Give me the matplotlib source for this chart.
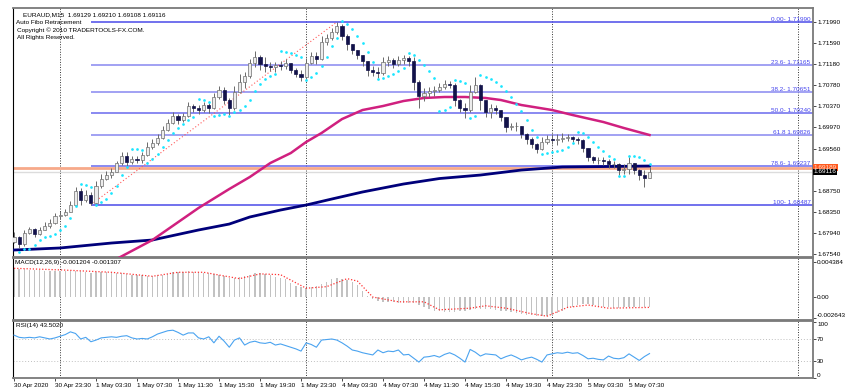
import matplotlib
matplotlib.use("Agg")
import matplotlib.pyplot as plt
import numpy as np

plt.rcParams['font.family'] = ['Liberation Sans', 'DejaVu Sans']

# ---- data (30-minute sampling of the EURAUD M15 chart) ----
open0 = 1.67770
close = [1.67867, 1.67732, 1.67943, 1.68019, 1.67924, 1.68001, 1.68077, 1.68134, 1.68269, 1.68288,
         1.68346, 1.68480, 1.68749, 1.68576, 1.68672, 1.68518, 1.68845, 1.68978, 1.69055, 1.69113,
         1.69285, 1.69420, 1.69305, 1.69362, 1.69343, 1.69439, 1.69593, 1.69669, 1.69766, 1.69919,
         1.70052, 1.70187, 1.70110, 1.70187, 1.70379, 1.70341, 1.70302, 1.70398, 1.70341, 1.70552,
         1.70686, 1.70494, 1.70341, 1.70648, 1.70840, 1.70954, 1.71203, 1.71319, 1.71184, 1.71146,
         1.71127, 1.71165, 1.71146, 1.71203, 1.71069, 1.70992, 1.70935, 1.71203, 1.71338, 1.71280,
         1.71607, 1.71684, 1.71799, 1.71913, 1.71722, 1.71568, 1.71453, 1.71357, 1.71242, 1.71069,
         1.71031, 1.71011, 1.71223, 1.71261, 1.71184, 1.71261, 1.71300, 1.71242, 1.70840, 1.70571,
         1.70628, 1.70667, 1.70686, 1.70744, 1.70801, 1.70782, 1.70494, 1.70341, 1.70302, 1.70648,
         1.70782, 1.70494, 1.70264, 1.70341, 1.70302, 1.70168, 1.69976, 1.69995, 1.69995, 1.69842,
         1.69746, 1.69650, 1.69554, 1.69689, 1.69746, 1.69727, 1.69746, 1.69766, 1.69785, 1.69746,
         1.69727, 1.69574, 1.69401, 1.69343, 1.69343, 1.69324, 1.69266, 1.69266, 1.69151, 1.69170,
         1.69285, 1.69151, 1.69055, 1.68998, 1.69116]
high = [1.67963, 1.67886, 1.68001, 1.68058, 1.68039, 1.68058, 1.68154, 1.68211, 1.68326, 1.68365,
        1.68403, 1.68557, 1.68826, 1.68807, 1.68768, 1.68730, 1.68941, 1.69074, 1.69132, 1.69190,
        1.69324, 1.69497, 1.69497, 1.69420, 1.69420, 1.69497, 1.69689, 1.69746, 1.69842, 1.69995,
        1.70129, 1.70264, 1.70225, 1.70244, 1.70456, 1.70417, 1.70398, 1.70456, 1.70436, 1.70628,
        1.70763, 1.70744, 1.70533, 1.70763, 1.70992, 1.71031, 1.71280, 1.71434, 1.71357, 1.71319,
        1.71223, 1.71223, 1.71242, 1.71280, 1.71203, 1.71108, 1.71069, 1.71300, 1.71415, 1.71415,
        1.71722, 1.71760, 1.71875, 1.71990, 1.71951, 1.71760, 1.71549, 1.71453, 1.71357, 1.71223,
        1.71146, 1.71127, 1.71319, 1.71338, 1.71300, 1.71338, 1.71357, 1.71338, 1.71319, 1.70878,
        1.70725, 1.70744, 1.70763, 1.70820, 1.70878, 1.70859, 1.70820, 1.70513, 1.70436, 1.70782,
        1.70935, 1.70801, 1.70494, 1.70417, 1.70398, 1.70264, 1.70110, 1.70052, 1.70072, 1.69976,
        1.69861, 1.69785, 1.69669, 1.69785, 1.69823, 1.69842, 1.69842, 1.69861, 1.69842, 1.69804,
        1.69785, 1.69746, 1.69554, 1.69420, 1.69401, 1.69401, 1.69362, 1.69324, 1.69285, 1.69266,
        1.69401, 1.69266, 1.69170, 1.69151, 1.69210]
low = [1.67751, 1.67656, 1.67694, 1.67924, 1.67867, 1.67905, 1.68001, 1.68039, 1.68115, 1.68211,
       1.68269, 1.68346, 1.68480, 1.68480, 1.68538, 1.68487, 1.68499, 1.68807, 1.68960, 1.68998,
       1.69113, 1.69247, 1.69228, 1.69266, 1.69285, 1.69285, 1.69420, 1.69554, 1.69631, 1.69746,
       1.69900, 1.70033, 1.70033, 1.70072, 1.70168, 1.70264, 1.70225, 1.70264, 1.70244, 1.70321,
       1.70513, 1.70417, 1.70206, 1.70302, 1.70628, 1.70725, 1.70916, 1.71127, 1.71069, 1.71031,
       1.71050, 1.71031, 1.71069, 1.71088, 1.71011, 1.70935, 1.70859, 1.70896, 1.71184, 1.71184,
       1.71261, 1.71549, 1.71645, 1.71760, 1.71645, 1.71453, 1.71376, 1.71280, 1.71146, 1.70954,
       1.70954, 1.70916, 1.70973, 1.71146, 1.71108, 1.71146, 1.71184, 1.71146, 1.70686, 1.70341,
       1.70475, 1.70552, 1.70571, 1.70648, 1.70705, 1.70725, 1.70379, 1.70264, 1.70149, 1.70264,
       1.70628, 1.70302, 1.70168, 1.70149, 1.70225, 1.70091, 1.69881, 1.69919, 1.69900, 1.69766,
       1.69650, 1.69574, 1.69477, 1.69535, 1.69650, 1.69650, 1.69631, 1.69689, 1.69708, 1.69689,
       1.69650, 1.69497, 1.69324, 1.69285, 1.69266, 1.69247, 1.69190, 1.69190, 1.69055, 1.69074,
       1.69074, 1.69074, 1.68960, 1.68826, 1.68998]

# parabolic SAR (None = no dot)
sar = [None, 1.67579, 1.67636, 1.67636, 1.67713, 1.67809, 1.67867, 1.67886, 1.67924, 1.68001,
       1.68077, 1.68230, 1.68461, 1.68883, 1.68864, 1.68826, 1.68480, 1.68538, 1.68595, 1.68710,
       1.68845, 1.69055, 1.69209, 1.69554, 1.69554, 1.69535, 1.69285, 1.69362, 1.69458, 1.69593,
       1.69727, 1.69861, 1.69957, 1.70033, 1.70110, 1.70168, 1.70513, 1.70494, 1.70456, 1.70187,
       1.70206, 1.70225, 1.70187, 1.70264, 1.70302, 1.70379, 1.70494, 1.70667, 1.70801, 1.70896,
       1.70954, 1.70992, 1.71434, 1.71415, 1.71395, 1.71357, 1.71319, 1.70878, 1.70935, 1.71011,
       1.71146, 1.71319, 1.71530, 1.71684, 1.72009, 1.71951, 1.71856, 1.71722, 1.71587, 1.71415,
       1.71223, 1.70896, 1.70916, 1.70954, 1.70992, 1.71050, 1.71108, 1.71395, 1.71357, 1.71261,
       1.71165, 1.71050, 1.70916, 1.70283, 1.70302, 1.70360, 1.70878, 1.70859, 1.70820, 1.70149,
       1.70187, 1.70973, 1.70935, 1.70896, 1.70840, 1.70763, 1.70667, 1.70552, 1.70417, 1.70283,
       1.70110, 1.69919, 1.69785, 1.69458, 1.69477, 1.69497, 1.69516, 1.69535, 1.69593, 1.69669,
       1.69881, 1.69861, 1.69785, 1.69689, 1.69593, 1.69516, 1.69420, 1.69362, 1.69036, 1.69036,
       1.69420, 1.69420, 1.69401, 1.69343, 1.69266]

# moving averages read at a few bars
pink_idx = [20, 27, 36, 42, 46, 50, 54, 57, 60, 64, 68, 72, 76, 80, 84, 88, 92, 95, 99, 105, 109, 115, 119, 124]
pink_val = [1.67444, 1.67809, 1.68423, 1.68787, 1.69017, 1.69285, 1.69477, 1.69689, 1.69861, 1.70129,
            1.70302, 1.70379, 1.70475, 1.70533, 1.70552, 1.70552, 1.70533, 1.70494, 1.70398, 1.70302,
            1.70206, 1.70072, 1.69957, 1.69823]
navy_idx = [0, 9, 19, 27, 36, 42, 46, 52, 57, 62, 68, 76, 83, 91, 99, 107, 115, 124]
navy_val = [1.67617, 1.67656, 1.67751, 1.67809, 1.68001, 1.68115, 1.68250, 1.68384, 1.68480, 1.68595,
            1.68730, 1.68883, 1.68988, 1.69055, 1.69151, 1.69209, 1.69218, 1.69228]

# fibo
fib_low_idx, fib_high_idx = 15, 63
fib_low, fib_high = 1.68487, 1.71990
fib_levels = [1.71990, 1.71165, 1.70651, 1.70240, 1.69826, 1.69237, 1.68487]
fib_labels = ["0.00- 1.71990", "23.6- 1.71165", "38.2- 1.70651", "50.0- 1.70240",
              "61.8 1.69826", "78.6- 1.69237", "100- 1.68487"]
bid, ask = 1.69116, 1.69189

# MACD
macd_main = [0.0036, 0.0035, 0.0035, 0.0034, 0.0034, 0.0034, 0.0033, 0.0033, 0.0033, 0.0032,
             0.0032, 0.0032, 0.0033, 0.0032, 0.0031, 0.0030, 0.0031, 0.0031, 0.0031, 0.0030,
             0.0030, 0.0030, 0.0029, 0.0028, 0.0027, 0.0027, 0.0026, 0.0026, 0.0027, 0.0028,
             0.0029, 0.0031, 0.0031, 0.0031, 0.0032, 0.0031, 0.0031, 0.0030, 0.0030, 0.0029,
             0.0028, 0.0026, 0.0024, 0.0024, 0.0025, 0.0026, 0.0028, 0.0030, 0.0030, 0.0029,
             0.0027, 0.0025, 0.0024, 0.0022, 0.0018, 0.0014, 0.0012, 0.0011, 0.0012, 0.0014,
             0.0016, 0.0019, 0.0022, 0.0024, 0.0023, 0.0021, 0.0019, 0.0015, 0.0008, 0.0001,
             -0.0003, -0.0005, -0.0006, -0.0006, -0.0006, -0.0007, -0.0007, -0.0007, -0.0008, -0.0010,
             -0.0013, -0.0015, -0.0017, -0.0018, -0.0019, -0.0019, -0.0019, -0.0018, -0.0017, -0.0016,
             -0.0015, -0.0015, -0.0015, -0.0015, -0.0016, -0.0017, -0.0018, -0.0019, -0.0020, -0.0021,
             -0.0022, -0.0023, -0.0024, -0.0024, -0.0024, -0.0023, -0.0020, -0.0017, -0.0014, -0.0012,
             -0.0010, -0.0009, -0.0009, -0.0010, -0.0011, -0.0012, -0.0013, -0.0014, -0.0014, -0.0013,
             -0.0013, -0.0013, -0.0013, -0.0013, -0.0012]
sig_idx = [0, 9, 19, 27, 32, 37, 44, 48, 52, 57, 61, 65, 67, 70, 75, 80, 83, 89, 92, 96, 101, 104, 108, 112, 116, 124]
sig_val = [0.0036, 0.0034, 0.0031, 0.0026, 0.0031, 0.0031, 0.0023, 0.0029, 0.0028, 0.0011,
           0.0013, 0.0023, 0.0020, 0.0000, -0.0006, -0.0006, -0.0016, -0.0014, -0.0011, -0.0014,
           -0.0021, -0.0024, -0.0013, -0.0010, -0.0014, -0.0013]

# RSI(14)
rsi = [77, 73, 72, 73, 72, 74, 72, 70, 72, 75,
       78, 83, 80, 70, 73, 65, 68, 72, 73, 74,
       73, 75, 76, 72, 70, 71, 70, 74, 79, 82,
       85, 86, 82, 77, 81, 81, 72, 70, 74, 63,
       75, 66, 55, 68, 72, 59, 64, 66, 63, 62,
       64, 59, 61, 58, 55, 52, 48, 63, 60, 55,
       68, 69, 70, 68, 63, 57, 50, 48, 45, 43,
       41, 50, 45, 48, 47, 50, 41, 42, 35, 28,
       37, 38, 40, 37, 42, 45, 41, 35, 28, 51,
       46, 39, 43, 42, 41, 34, 38, 41, 37, 32,
       35, 37, 33, 28, 41, 43, 45, 44, 46, 44,
       45, 40, 34, 35, 33, 32, 39, 35, 34, 36,
       43, 37, 31, 38, 43.502]

price_ticks = [1.71990, 1.71590, 1.71180, 1.70780, 1.70370, 1.69970, 1.69560,
               1.68750, 1.68350, 1.67940, 1.67540]
macd_ticks = [0.004384, 0.0, -0.002643]
macd_tick_labels = ["0.004384", "0.00", "-0.002643"]
rsi_ticks = [100, 70, 30, 0]
time_idx = [0, 8, 16, 24, 32, 40, 48, 56, 64, 72, 80, 88, 96, 104, 112, 120]
time_labels = ["30 Apr 2020", "30 Apr 23:30", "1 May 03:30", "1 May 07:30", "1 May 11:30",
               "1 May 15:30", "1 May 19:30", "1 May 23:30", "4 May 03:30", "4 May 07:30",
               "4 May 11:30", "4 May 15:30", "4 May 19:30", "4 May 23:30", "5 May 03:30",
               "5 May 07:30"]
day_starts = [9, 57, 105, 153]

FS = 4.6
W, H = 853, 392
fig = plt.figure(figsize=(W / 100, H / 100), dpi=100)
fig.patch.set_facecolor("white")

def box(x0, y0, x1, y1):
    return [x0 / W, 1 - y1 / H, (x1 - x0) / W, (y1 - y0) / H]

ax = fig.add_axes(box(13, 8, 813, 257))
axm = fig.add_axes(box(13, 258, 813, 320), sharex=ax)
axr = fig.add_axes(box(13, 321, 813, 378), sharex=ax)

x = np.arange(len(close))
xlim = (-0.2, 155.9)

for a in (ax, axm, axr):
    a.set_xlim(*xlim)
    for s in a.spines.values():
        s.set_color("#7a7a7a")
        s.set_linewidth(1.3)
    a.spines["left"].set_color("black")
    a.spines["left"].set_linewidth(0.8)
    a.yaxis.tick_right()
    a.tick_params(axis="y", labelsize=FS, length=2, pad=1, width=0.5, colors="black")
    a.tick_params(axis="x", length=0, labelbottom=False)
    for d in day_starts:
        a.axvline(d, color="#333333", lw=0.7, ls=(0, (1, 1.6)), zorder=1)

# ---- main price panel ----
ax.set_ylim(1.67483, 1.72259)
ax.set_yticks(price_ticks)
ax.set_yticklabels([f"{p:.5f}" for p in price_ticks])

# fibo lines and labels
fib_cols = ["#4a4ae8", "#8888f0", "#8888f0", "#6a6aee", "#8888f0", "#6a6aee", "#4a4ae8"]
for lev, lab, c in zip(fib_levels, fib_labels, fib_cols):
    ax.hlines(lev, fib_low_idx, xlim[1], color=c, lw=1.1, zorder=2)
    ax.text(0.997, lev, lab, transform=ax.get_yaxis_transform(), ha="right", va="bottom",
            fontsize=FS, color="#4444ee", zorder=6)
ax.plot([fib_low_idx, fib_high_idx], [fib_low, fib_high], color="#ff5a5a", lw=0.8,
        ls=(0, (1, 2)), zorder=3)

# ask / bid lines
ax.axhline(ask, color="#f7a98a", lw=2.0, zorder=2)
ax.axhline(bid, color="#dcdcdc", lw=1.0, zorder=2)

# moving averages
ax.plot(navy_idx, navy_val, color="#00007a", lw=2.0, zorder=4)
ax.plot(pink_idx, pink_val, color="#d0207f", lw=1.8, zorder=4)

# candles
opens = [open0] + close[:-1]
for i, (o, h, l, c) in enumerate(zip(opens, high, low, close)):
    ax.vlines(i, min(l, o, c), max(h, o, c), color="#6a6a6a", lw=0.7, zorder=5)
    bull = c >= o
    ax.bar(i, max(abs(c - o), 0.00004), bottom=min(o, c), width=0.6,
           color="#ececec" if bull else "#12124a", edgecolor="#6e6e6e" if bull else "#12124a",
           linewidth=0.5, zorder=5)

# parabolic SAR
sx = [i for i, v in enumerate(sar) if v is not None]
sv = [v for v in sar if v is not None]
ax.scatter(sx, sv, s=3.8, color="#19e6ff", linewidths=0, zorder=6)

# price labels on the right scale
ax.text(1.001, ask + 0.00010, f"{ask:.5f}", transform=ax.get_yaxis_transform(), ha="left",
        va="center", fontsize=FS, color="#ffe0d0", zorder=7, clip_on=False,
        bbox=dict(fc="#ff5a1f", ec="none", pad=0.5))
ax.text(1.001, bid, f"{bid:.5f}", transform=ax.get_yaxis_transform(), ha="left",
        va="center", fontsize=FS, color="white", zorder=8, clip_on=False,
        bbox=dict(fc="black", ec="none", pad=0.5))

# ---- MACD panel ----
axm.set_ylim(-0.00288, 0.00489)
axm.bar(x, macd_main, width=0.28, color="#c2c2c2", zorder=2)
axm.plot(sig_idx, sig_val, color="#ff3333", lw=0.9, ls=(0, (1, 1.5)), zorder=3)
axm.set_yticks(macd_ticks)
axm.set_yticklabels(macd_tick_labels)
axm.get_yticklabels()[-1].set_va("bottom")
axm.text(0.003, 0.96, "MACD(12,26,9) -0.001204 -0.001307", transform=axm.transAxes,
         ha="left", va="top", fontsize=FS, color="black")

# ---- RSI panel ----
axr.set_ylim(-0.9, 102.7)
for lev in (70, 30):
    axr.axhline(lev, color="#c0c0c0", lw=0.7, ls=(0, (1, 2)), zorder=1)
axr.plot(x, rsi, color="#4aa3f0", lw=0.8, zorder=3)
axr.set_yticks(rsi_ticks)
axr.set_yticklabels([str(t) for t in rsi_ticks])
rl = axr.get_yticklabels()
rl[0].set_va("top")
rl[-1].set_va("bottom")
axr.text(0.004, 0.97, "RSI(14) 43.5020", transform=axr.transAxes, ha="left", va="top",
         fontsize=FS, color="black")

axr.set_xticks(time_idx)
axr.set_xticklabels(time_labels)
axr.tick_params(axis="x", labelbottom=True, length=2, width=0.5, labelsize=FS, pad=1.5)
for t in axr.get_xticklabels():
    t.set_ha("left")

# ---- header text ----
fig.text(23 / W, 1 - 14.5 / H, "EURAUD,M15  1.69129 1.69210 1.69108 1.69116",
         fontsize=FS, va="center", ha="left", color="black")
fig.text(16 / W, 1 - 23 / H, "Auto Fibo Retracement", fontsize=FS, va="center", color="black")
fig.text(17 / W, 1 - 30.5 / H, "Copyright \u00a9 2010 TRADERTOOLS-FX.COM.", fontsize=FS,
         va="center", color="black")
fig.text(17 / W, 1 - 38 / H, "All Rights Reserved.", fontsize=FS, va="center", color="black")

fig.savefig("out.png", dpi=100, facecolor="white")
